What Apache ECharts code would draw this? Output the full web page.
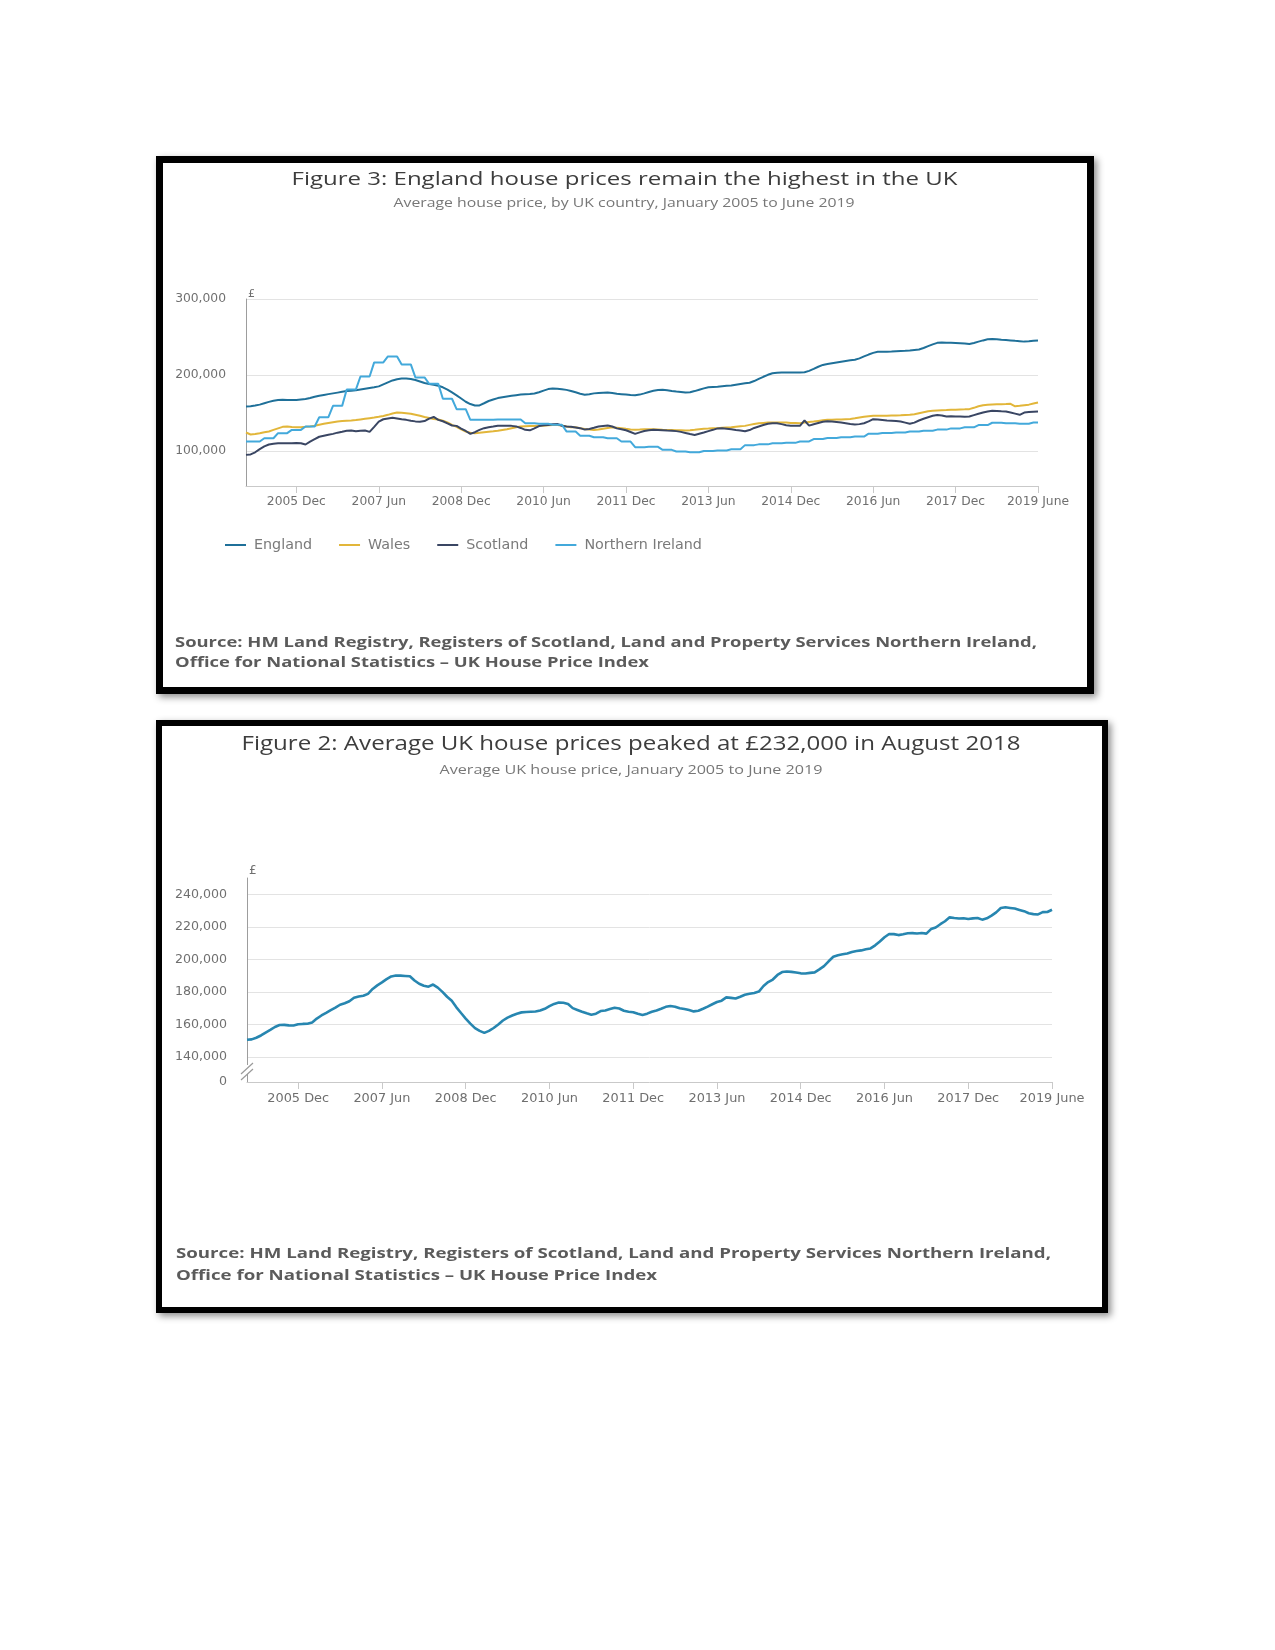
<!DOCTYPE html>
<html>
<head>
<meta charset="utf-8">
<script src="https://cdn.jsdelivr.net/npm/echarts@6/dist/echarts.min.js"></script>
<style>
html,body{margin:0;padding:0;background:#fff;}
#page{position:relative;width:1275px;height:1650px;overflow:hidden;}
.frame{position:absolute;box-sizing:border-box;border:7px solid #000;background:#fff;box-shadow:3px 3px 7px rgba(0,0,0,0.45);}
#f1{left:156px;top:156px;width:938px;height:538px;}
#f2{left:156px;top:720px;width:952px;height:593px;border-width:6px;}
#chart{position:absolute;left:0;top:0;width:1275px;height:1650px;}
</style>
</head>
<body>
<div id="page">
  <div class="frame" id="f1"></div>
  <div class="frame" id="f2"></div>
  <div id="chart"></div>
</div>
<script>
// ---------------- DATA (values in £ thousands) ----------------
const monthNames = ['Jan','Feb','Mar','Apr','May','Jun','Jul','Aug','Sep','Oct','Nov','Dec'];
const years = [2005,2006,2007,2008,2009,2010,2011,2012,2013,2014,2015,2016,2017,2018,2019];
const categories = [];
years.forEach(y => monthNames.forEach((m, i) => { if (!(y === 2019 && i > 5)) categories.push(y + ' ' + m); }));
categories[categories.length - 1] = '2019 June';

const xTickLabels = ['2005 Dec','2007 Jun','2008 Dec','2010 Jun','2011 Dec','2013 Jun','2014 Dec','2016 Jun','2017 Dec','2019 June'];
const seriesNames = ['England','Wales','Scotland','Northern Ireland'];

const england = [
158.8,159.2,160.0,161.2,163.0,164.8,166.4,167.2,167.6,167.4,167.2,167.4,
168.0,168.6,170.0,171.6,173.0,174.0,175.0,176.0,177.0,178.0,179.0,179.6,
180.2,181.2,182.2,183.2,184.0,185.2,187.8,190.4,193.0,194.6,195.4,195.6,
195.0,193.6,191.6,189.6,188.4,187.2,186.0,184.0,181.0,177.2,173.4,169.2,
165.0,162.0,160.0,160.2,163.0,166.0,168.0,169.8,171.0,172.0,172.8,173.6,
174.4,174.8,175.2,175.8,177.4,179.6,181.6,182.5,182.2,181.4,180.6,179.2,
177.4,175.6,174.2,174.8,176.0,176.4,176.8,177.0,176.4,175.4,175.0,174.6,
174.0,173.6,174.4,176.0,177.8,179.4,180.4,180.7,180.2,179.2,178.4,177.8,
177.0,177.6,179.0,180.8,182.6,184.0,184.4,184.8,185.4,186.0,186.4,187.4,
188.4,189.2,190.0,192.2,195.0,197.8,200.4,202.4,203.0,203.4,203.5,203.3,
203.4,203.5,203.8,205.6,208.2,211.0,213.4,214.6,215.6,216.6,217.6,218.6,
219.4,220.2,222.0,224.6,227.0,229.2,230.6,230.8,230.8,231.0,231.4,231.8,
232.0,232.4,233.0,233.6,235.6,238.0,240.4,242.4,243.0,242.6,242.4,242.2,
242.0,241.6,240.8,242.2,244.0,245.6,247.0,247.4,247.0,246.4,246.0,245.6,
245.0,244.6,244.0,244.4,245.0,245.6
];

const wales = [
124.6,122.0,122.6,123.6,124.8,126.0,128.0,130.0,132.0,132.4,131.8,131.6,
131.6,132.0,132.6,133.6,134.8,136.0,137.0,138.0,139.0,139.6,140.0,140.4,
141.0,141.8,142.6,143.4,144.2,145.2,146.4,147.8,149.6,150.8,150.4,150.0,
149.2,148.0,146.6,145.0,143.6,142.2,141.6,140.0,137.8,134.6,132.0,128.6,
125.8,124.2,123.7,124.2,125.0,125.6,126.2,127.0,128.0,129.0,130.2,131.4,
132.5,132.8,133.0,133.2,133.3,133.6,134.0,134.4,134.6,133.8,132.6,131.6,
131.4,130.2,129.2,128.4,128.0,128.6,129.6,130.6,131.6,131.0,130.3,129.4,
128.6,128.1,128.4,128.8,128.9,128.9,128.6,128.2,128.0,127.8,127.6,127.4,
127.2,127.6,128.2,128.9,129.4,129.8,130.3,130.3,130.8,131.2,131.6,132.2,
132.8,133.3,134.6,135.8,136.8,137.2,137.6,137.7,137.7,137.6,137.7,137.2,
137.0,136.8,137.6,138.4,139.0,139.8,140.6,141.2,141.4,141.6,141.8,142.1,
142.4,143.2,144.2,145.2,146.0,146.5,146.6,146.5,146.5,146.8,147.0,147.2,
147.6,147.8,148.6,150.0,151.2,152.4,153.2,153.5,153.8,154.0,154.4,154.6,
154.8,155.0,155.3,157.0,159.0,160.4,161.0,161.4,161.6,161.8,162.0,162.3,
159.0,159.6,160.4,161.2,162.6,164.0
];

const scotland = [
95.2,95.8,98.6,102.8,106.4,108.8,109.8,110.4,110.6,110.4,110.6,110.8,
110.5,108.8,112.6,115.8,119.0,120.4,121.6,122.8,124.4,125.6,127.0,127.2,
126.2,127.0,127.2,125.4,132.0,138.8,142.0,143.0,143.9,143.0,142.0,141.2,
140.0,139.2,138.6,139.6,142.8,145.0,141.2,139.4,136.6,133.8,133.3,129.8,
126.6,122.8,125.0,128.0,130.3,131.6,132.5,133.6,133.6,133.4,133.3,132.6,
130.6,128.1,127.4,130.0,133.0,134.2,134.6,135.4,135.8,133.4,132.5,132.0,
131.2,130.3,128.4,129.2,130.8,132.5,133.2,133.8,132.5,130.0,128.9,127.6,
125.2,122.8,124.8,126.6,127.4,128.1,128.0,127.6,127.2,127.0,126.4,125.4,
124.0,122.6,121.4,123.0,124.6,126.4,128.1,130.0,130.3,129.6,128.9,128.0,
127.2,126.2,127.8,130.6,132.5,134.4,136.0,136.6,136.8,135.6,134.2,133.6,
133.4,133.3,140.4,133.6,135.4,137.0,138.6,139.5,139.0,138.4,137.7,136.8,
135.8,135.2,135.6,136.8,139.2,142.1,141.6,141.0,140.4,140.0,139.6,139.0,
137.6,136.0,137.6,140.4,142.6,144.6,146.5,147.6,147.0,145.6,145.8,145.6,
145.6,145.4,145.6,147.4,149.2,150.9,152.2,153.1,152.8,152.4,152.2,150.9,
149.4,147.8,150.8,151.4,151.8,152.2
];

const northernIreland = [
112.7,112.7,112.7,112.7,117.0,117.0,117.0,123.7,123.7,123.7,128.0,128.0,
128.0,132.5,132.5,132.5,144.7,144.7,144.7,159.6,159.6,159.6,181.0,181.0,
181.0,198.2,198.2,198.2,216.7,216.7,216.7,224.6,224.6,224.6,214.0,214.0,
214.0,197.0,197.0,197.0,188.6,188.6,188.6,168.9,168.9,168.9,155.3,155.3,
155.3,141.2,141.2,141.2,141.4,141.4,141.4,141.6,141.6,141.6,141.8,141.8,
141.8,136.8,136.8,136.8,136.2,136.2,136.2,134.8,134.8,134.8,126.0,126.0,
126.0,120.4,120.4,120.4,118.4,118.4,118.4,117.0,117.0,117.0,112.7,112.7,
112.7,105.3,105.3,105.3,105.8,105.8,105.8,101.8,101.8,101.8,99.6,99.6,
99.6,98.7,98.7,98.7,100.4,100.4,100.4,101.0,101.0,101.0,102.6,102.6,
102.6,108.0,108.0,108.0,109.0,109.0,109.0,110.5,110.5,110.5,111.0,111.0,
111.0,112.8,112.8,112.8,116.0,116.0,116.0,117.4,117.4,117.4,118.4,118.4,
118.4,119.3,119.3,119.3,123.0,123.0,123.0,124.0,124.0,124.0,124.6,124.6,
124.6,125.9,125.9,125.9,127.0,127.0,127.0,128.4,128.4,128.4,130.0,130.0,
130.0,131.4,131.4,131.4,134.4,134.4,134.4,137.4,137.4,137.4,136.6,136.6,
136.6,136.2,136.2,136.2,137.7,137.7
];

const ukAverage = [
150.6,150.8,151.8,153.2,155.0,156.6,158.4,159.6,159.7,159.4,159.3,160.1,
160.3,160.4,161.2,163.6,165.5,167.1,168.8,170.3,172.1,173.0,174.2,176.4,
177.1,177.6,178.8,181.8,184.0,185.8,187.8,189.5,190.1,190.0,189.8,189.6,
187.0,185.0,183.8,183.2,184.5,182.6,180.0,177.0,174.5,170.5,167.0,163.6,
160.5,157.7,156.0,154.8,156.0,157.8,160.0,162.4,164.2,165.5,166.6,167.4,
167.6,167.8,167.9,168.5,169.6,171.2,172.6,173.4,173.3,172.6,170.0,168.9,
167.8,166.8,166.0,166.6,168.2,168.6,169.4,170.2,169.8,168.4,167.8,167.5,
166.5,165.8,166.6,167.8,168.6,169.6,170.8,171.3,170.9,169.9,169.5,168.8,
168.0,168.4,169.6,170.9,172.4,173.8,174.6,176.6,176.3,175.9,177.0,178.2,
178.8,179.3,180.2,183.6,186.0,187.6,190.4,192.2,192.5,192.3,191.9,191.4,
191.3,191.7,192.0,193.8,195.8,198.8,201.6,202.5,203.1,203.6,204.5,205.1,
205.5,206.2,206.7,208.6,211.0,213.6,215.6,215.5,214.9,215.4,216.0,216.1,
215.9,216.2,215.8,218.6,219.6,221.6,223.4,225.8,225.4,225.1,225.3,224.8,
225.2,225.4,224.4,225.2,226.9,228.9,231.6,232.0,231.6,231.2,230.4,229.6,
228.3,227.8,227.6,229.0,229.1,230.5
];

// y-axis tick values (thousands)
const yTicks1 = [100, 200, 300];
const yMin1 = 54.3, yMax1 = 300;
const yTicks2 = [140, 160, 180, 200, 220, 240];
const yMin2 = 124.6, yMax2 = 250;   // broken axis: bottom tick shown as "0"

// ---------------- TEXTS ----------------
const title1 = 'Figure 3: England house prices remain the highest in the UK';
const subtitle1 = 'Average house price, by UK country, January 2005 to June 2019';
const title2 = 'Figure 2: Average UK house prices peaked at £232,000 in August 2018';
const subtitle2 = 'Average UK house price, January 2005 to June 2019';
const sourceLine1 = 'Source: HM Land Registry, Registers of Scotland, Land and Property Services Northern Ireland,';
const sourceLine2 = 'Office for National Statistics – UK House Price Index';

// ---------------- LAYOUT ----------------
const colors = { england:'#1f7099', wales:'#e2b63a', scotland:'#3a4663', ni:'#43a9db', uk:'#2786b0' };
const g1 = { left:246, top:299, right:237, bottom:1164 };      // bottom axis y = 486
const g2 = { left:247, top:878, right:223, bottom:568 };       // bottom axis y = 1082
const AX_FONT = 'DejaVu Sans';

const mctx = document.createElement('canvas').getContext('2d');
function fitScale(text, font, width) { mctx.font = font; return width / mctx.measureText(text).width; }

const fmtK = v => String(Math.round(v * 1000)).replace(/\B(?=(\d{3})+(?!\d))/g, ',');
const isTick = (i, v) => xTickLabels.indexOf(v) >= 0;

function textEl(text, font, x, y, width, color, align) {
  return {
    type:'text', x:x, y:y, scaleX: fitScale(text, font, width), z:50,
    style:{ text:text, font:font, fill:color, align:align, verticalAlign:'middle', textAlign:align, textVerticalAlign:'middle' }
  };
}

const fTitle1 = 'normal 19px "Open Sans"';
const fSub1 = 'normal 12.5px "Open Sans"';
const fTitle2 = 'normal 20px "Open Sans"';
const fSub2 = 'normal 13px "Open Sans"';
const fSrc = 'bold 14.5px "Open Sans"';
const srcScale1 = fitScale(sourceLine1, fSrc, 862);
const srcScale2 = fitScale(sourceLine1, fSrc, 875);

function srcEl(text, x, y, s) {
  return { type:'text', x:x, y:y, scaleX:s, z:50,
    style:{ text:text, font:fSrc, fill:'#5b5b5b', align:'left', verticalAlign:'middle', textAlign:'left', textVerticalAlign:'middle' } };
}

const axisBottom2 = 1650 - g2.bottom;
const graphics = [
  textEl(title1, fTitle1, 624.5, 180, 666, '#3d3d3d', 'center'),
  textEl(subtitle1, fSub1, 624, 203, 461, '#777777', 'center'),
  srcEl(sourceLine1, 175, 643, srcScale1),
  srcEl(sourceLine2, 175, 663, srcScale1),
  textEl(title2, fTitle2, 631, 744, 779, '#3d3d3d', 'center'),
  textEl(subtitle2, fSub2, 631, 770, 383, '#777777', 'center'),
  srcEl(sourceLine1, 176, 1254, srcScale2),
  srcEl(sourceLine2, 176, 1276, srcScale2),
  // axis-break marks on the chart 2 value axis
  { type:'rect', z:60, shape:{ x:g2.left - 3, y:axisBottom2 - 17, width:6, height:9 }, style:{ fill:'#ffffff' } },
  { type:'line', z:61, shape:{ x1:g2.left - 6, y1:axisBottom2 - 8, x2:g2.left + 6, y2:axisBottom2 - 19 }, style:{ stroke:'#9a9a9a', lineWidth:1.2 } },
  { type:'line', z:61, shape:{ x1:g2.left - 6, y1:axisBottom2 - 2, x2:g2.left + 6, y2:axisBottom2 - 13 }, style:{ stroke:'#9a9a9a', lineWidth:1.2 } }
];

function lineSeries(name, data, color, xi, width) {
  return { name:name, type:'line', xAxisIndex:xi, yAxisIndex:xi, data:data, showSymbol:false, symbol:'none',
    lineStyle:{ width:width, color:color }, itemStyle:{ color:color }, emphasis:{ disabled:true } };
}

function xAxis(gi, fontSize) {
  return {
    gridIndex:gi, type:'category', data:categories, boundaryGap:false,
    axisLine:{ show:true, lineStyle:{ color:'#c9c9c9', width:1 } },
    axisTick:{ show:true, interval:isTick, length:7, lineStyle:{ color:'#c9c9c9' } },
    axisLabel:{ interval:isTick, color:'#6f6f6f', fontFamily:AX_FONT, fontSize:fontSize, margin:10, hideOverlap:false },
    splitLine:{ show:false }
  };
}

const option = {
  animation:false,
  backgroundColor:'transparent',
  textStyle:{ fontFamily:AX_FONT },
  grid:[
    Object.assign({ containLabel:false, outerBoundsMode:'none' }, g1),
    Object.assign({ containLabel:false, outerBoundsMode:'none' }, g2)
  ],
  legend:{
    data:seriesNames, left:225, top:538, orient:'horizontal', padding:0,
    icon:'rect', itemWidth:21, itemHeight:2, itemGap:27,
    textStyle:{ color:'#7a7a7a', fontFamily:AX_FONT, fontSize:14.3, padding:[0,0,0,3] },
    selectedMode:false
  },
  xAxis:[ xAxis(0, 12.3), xAxis(1, 12.9) ],
  yAxis:[
    {
      gridIndex:0, type:'value', min:yMin1, max:yMax1,
      name:'£', nameLocation:'end', nameGap:-1,
      nameTextStyle:{ align:'left', color:'#6f6f6f', fontFamily:AX_FONT, fontSize:11, padding:[0,0,0,2] },
      axisLine:{ show:true, lineStyle:{ color:'#9d9d9d', width:1 } },
      axisTick:{ show:false, customValues:yTicks1 },
      axisLabel:{ customValues:yTicks1, formatter:fmtK, color:'#6f6f6f', fontFamily:AX_FONT, fontSize:12.3, margin:20, padding:[4,0,0,0] },
      splitLine:{ show:true, lineStyle:{ color:'#e3e3e3', width:1 } }
    },
    {
      gridIndex:1, type:'value', min:yMin2, max:yMax2,
      name:'£', nameLocation:'end', nameGap:1,
      nameTextStyle:{ align:'left', color:'#6f6f6f', fontFamily:AX_FONT, fontSize:12, padding:[0,0,0,2] },
      axisLine:{ show:true, lineStyle:{ color:'#9d9d9d', width:1 } },
      axisTick:{ show:false, customValues:yTicks2 },
      axisLabel:{ customValues:[yMin2].concat(yTicks2), formatter:v => (v <= yMin2 ? '0' : fmtK(v)),
        color:'#6f6f6f', fontFamily:AX_FONT, fontSize:12.6, margin:20, padding:[2,0,0,0] },
      splitLine:{ show:true, lineStyle:{ color:'#e3e3e3', width:1 } }
    }
  ],
  series:[
    lineSeries(seriesNames[0], england, colors.england, 0, 2),
    lineSeries(seriesNames[1], wales, colors.wales, 0, 2),
    lineSeries(seriesNames[2], scotland, colors.scotland, 0, 2),
    lineSeries(seriesNames[3], northernIreland, colors.ni, 0, 2),
    lineSeries('UK', ukAverage, colors.uk, 1, 2.6)
  ],
  graphic:graphics
};

const chart = echarts.init(document.getElementById('chart'), null, { renderer:'canvas' });
chart.setOption(option);
</script>
</body>
</html>
